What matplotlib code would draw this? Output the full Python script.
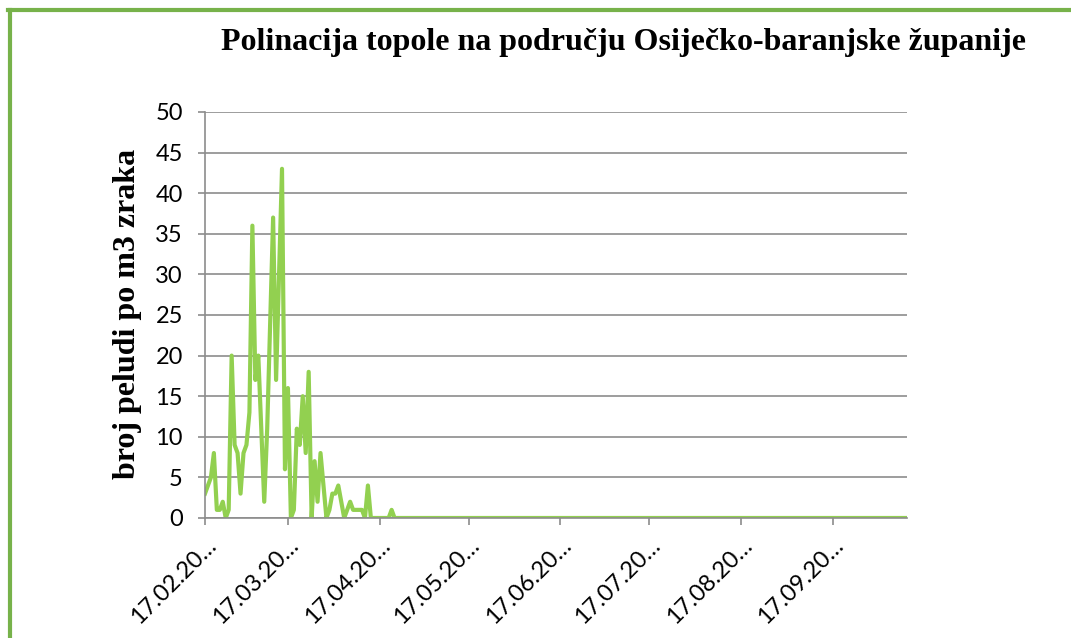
import numpy as np
import pandas as pd
import matplotlib
matplotlib.use("Agg")
import matplotlib.pyplot as plt
from matplotlib.lines import Line2D

# dnevne vrijednosti peludi topole (broj zrna po m3 zraka), od 17.02.
start = "2013-02-17"
vrijednosti_pocetak = [3, 4, 5, 8, 1, 1, 2, 0, 1, 20,
                       9, 8, 3, 8, 9, 13, 36, 17, 20, 11,
                       2, 11, 24, 37, 17, 30, 43, 6, 16, 0,
                       1, 11, 9, 15, 8, 18, 0, 7, 2, 8,
                       4, 0, 1, 3, 3, 4, 2, 0, 1, 2,
                       1, 1, 1, 1, 0, 4, 0, 0, 0, 0,
                       0, 0, 0, 1, 0]
vrijednosti_kraj = [0] * 173  # ostatak sezone bez peludi
vrijednosti = vrijednosti_pocetak + vrijednosti_kraj
datumi = pd.date_range(start, periods=len(vrijednosti), freq="D")

mjeseci = [pd.Timestamp(2013, m, 17) for m in range(2, 10)]
oznake = [d.strftime("%d.%m.") + "20\u2026" for d in mjeseci]
y_ticks = [0, 5, 10, 15, 20, 25, 30, 35, 40, 45, 50]

fig = plt.figure(figsize=(10.71, 6.38), dpi=100)
ax = fig.add_axes([0.1914, 0.1881, 0.8469 - 0.1914, 0.8245 - 0.1881])

ax.plot(datumi, vrijednosti, color="#92d050", lw=3.0, solid_joinstyle="round")

ax.set_xlim(datumi[0], datumi[-1])
ax.set_ylim(0, 50)
ax.set_yticks(y_ticks)
ax.set_xticks(mjeseci)
ax.set_xticklabels(oznake, rotation=45, ha="right", rotation_mode="anchor",
                   fontsize=17, family="Lato")
for t in ax.get_yticklabels():
    t.set_fontsize(17)
    t.set_family("Lato")

ax.grid(axis="y", color="#8c8c8c", lw=1.2)
ax.set_axisbelow(True)
for s in ["top", "right"]:
    ax.spines[s].set_visible(False)
for s in ["left", "bottom"]:
    ax.spines[s].set_color("#8c8c8c")
    ax.spines[s].set_linewidth(1.2)
ax.tick_params(axis="both", colors="#8c8c8c", length=5, width=1.2, labelcolor="black")
ax.tick_params(axis="y", pad=11)
ax.tick_params(axis="x", pad=7)

fig.text(0.582, 0.934, "Polinacija topole na području Osiječko-baranjske županije",
         ha="center", va="center", fontsize=23, fontweight="bold",
         family="Liberation Serif")
fig.text(0.119, 0.508, "broj peludi po m3 zraka", rotation=90,
         ha="center", va="center", fontsize=23, fontweight="bold",
         family="Liberation Serif")

# zeleni okvir grafikona
zelena = "#77b24a"
fig.add_artist(Line2D([10 / 1071, 10 / 1071], [0, 1 - 10 / 638], color=zelena, lw=3,
                      transform=fig.transFigure))
fig.add_artist(Line2D([8 / 1071, 1], [1 - 10 / 638, 1 - 10 / 638], color=zelena, lw=3,
                      transform=fig.transFigure))

fig.savefig("out.png", dpi=100)
